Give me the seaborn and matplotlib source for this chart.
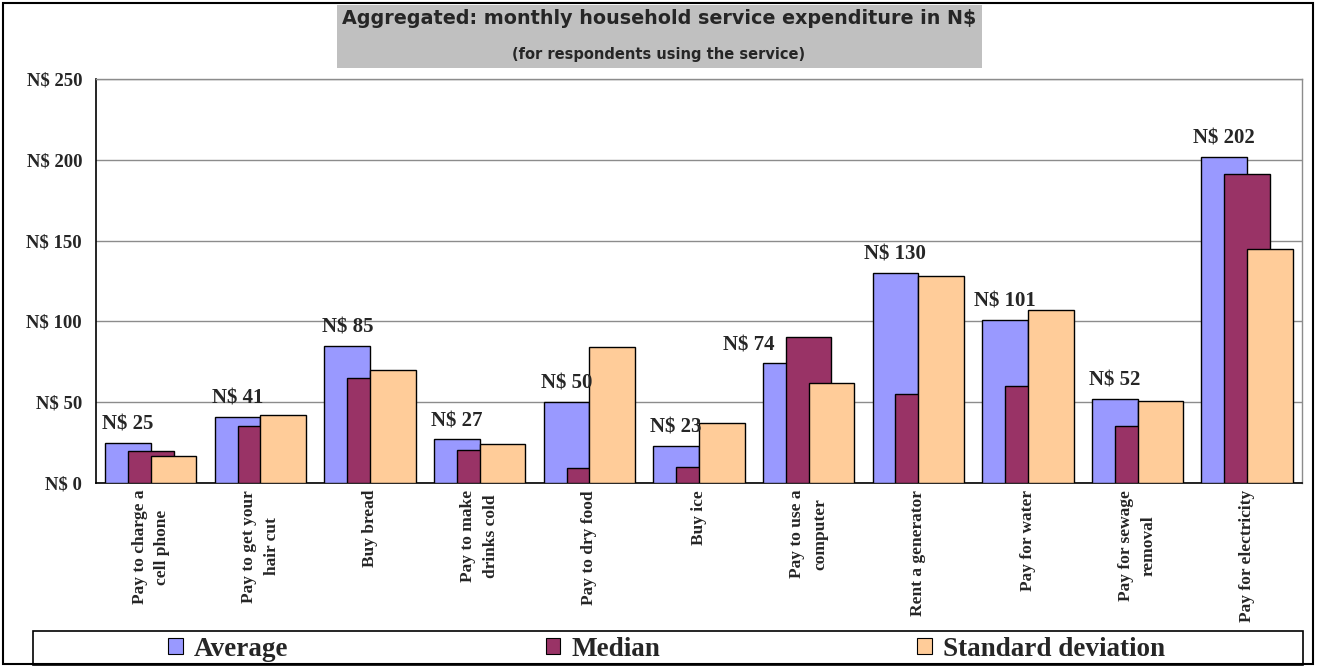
import numpy as np
import pandas as pd
import matplotlib
matplotlib.use("Agg")
import matplotlib.pyplot as plt
from matplotlib.patches import Patch, Rectangle
from matplotlib.ticker import FixedLocator, FuncFormatter
import seaborn as sns

# Monthly household service expenditure (N$), respondents using each service
categories = [
    "Pay to charge a\ncell phone",
    "Pay to get your\nhair cut",
    "Buy bread",
    "Pay to make\ndrinks cold",
    "Pay to dry food",
    "Buy ice",
    "Pay to use a\ncomputer",
    "Rent a generator",
    "Pay for water",
    "Pay for sewage\nremoval",
    "Pay for electricity",
]
average = [25, 41, 85, 27, 50, 23, 74, 130, 101, 52, 202]
median = [20, 35, 65, 20.5, 9, 10, 90.5, 55, 60, 35, 191]
std_dev = [16.5, 42, 70, 24, 84, 37, 62, 128, 107, 51, 145]

series_names = ["Average", "Median", "Standard deviation"]
series_values = [average, median, std_dev]
series_colors = ["#9999FF", "#993366", "#FFCC99"]
y_ticks = [0, 50, 100, 150, 200, 250]

sns.set_style("white")
plt.rcParams["font.family"] = ["Liberation Serif", "DejaVu Serif"]

W, H = 1317, 667
fig = plt.figure(figsize=(W / 100, H / 100), dpi=100)
ax = fig.add_axes([96 / W, 1 - 483 / H, (1302 - 96) / W, (483 - 79) / H])

# Overlapping clustered bars: each bar 5/12 of a slot, shifted by half a bar
bar_w = 5 / 12
step = bar_w / 2
idx = np.arange(len(categories))
for k, (name, vals, col) in enumerate(zip(series_names, series_values, series_colors)):
    df = pd.DataFrame({"pos": idx + (k - 1) * step, "value": vals})
    sns.barplot(data=df, x="pos", y="value", native_scale=True, width=bar_w,
                color=col, saturation=1, edgecolor="black", linewidth=1.0,
                ax=ax, zorder=3)

# Value labels above the average bars; kept clear of a taller median bar
for i, v in enumerate(average):
    if median[i] > v:
        x, ha = i - bar_w / 2 - 0.1, "right"
    else:
        x, ha = i - step, "center"
    ax.annotate(f"N$ {v:g}", xy=(x, v), xytext=(0, 6),
                textcoords="offset points", ha=ha, va="bottom",
                fontsize=15, fontweight="bold", zorder=5)

ax.set_xlim(-0.5, len(categories) - 0.5)
ax.set_ylim(0, 250)
ax.set_xlabel("")
ax.set_ylabel("")

ax.yaxis.set_major_locator(FixedLocator(y_ticks))
ax.yaxis.set_major_formatter(FuncFormatter(lambda v, p: f"N$ {v:.0f}"))
ax.tick_params(axis="y", which="major", direction="out", length=6, width=1,
               color="black", labelsize=13.5, pad=4)
for lab in ax.get_yticklabels():
    lab.set_fontweight("bold")

# Category boundaries carry tick marks; labels sit at slot centres
ax.xaxis.set_major_locator(FixedLocator(np.arange(len(categories) + 1) - 0.5))
ax.xaxis.set_major_formatter(FuncFormatter(lambda v, p: ""))
ax.set_xticks(idx, minor=True)
ax.set_xticklabels(categories, minor=True, rotation=90, ha="center", va="top",
                   multialignment="center", fontsize=12.5, fontweight="bold",
                   linespacing=1.55)
ax.tick_params(axis="x", which="major", direction="out", length=5, width=1,
               color="black")
ax.tick_params(axis="x", which="minor", length=0, pad=5)

ax.yaxis.grid(True, color="#8C8C8C", linewidth=1, zorder=0)
ax.set_axisbelow(True)
for s in ["left", "bottom"]:
    ax.spines[s].set_color("black")
    ax.spines[s].set_linewidth(1.2)
for s in ["top", "right"]:
    ax.spines[s].set_color("#8C8C8C")
    ax.spines[s].set_linewidth(1)

# Title block on a grey band
fig.patches.append(Rectangle((337 / W, 1 - 68 / H), (982 - 337) / W, (68 - 5) / H,
                             transform=fig.transFigure, facecolor="#C0C0C0",
                             edgecolor="none", zorder=0))
fig.text(659 / W, 1 - 19 / H, "Aggregated: monthly household service expenditure in N$",
         ha="center", va="center", fontsize=13.8, fontweight="bold",
         family="DejaVu Sans")
fig.text(659 / W, 1 - 55 / H, "(for respondents using the service)",
         ha="center", va="center", fontsize=10.5, fontweight="bold",
         family="DejaVu Sans")

# Legend strip along the bottom
fig.patches.append(Rectangle((33 / W, 1 - 665 / H), (1303 - 33) / W, (665 - 631) / H,
                             transform=fig.transFigure, facecolor="white",
                             edgecolor="black", linewidth=1.2, zorder=1))
handles = [Patch(facecolor=c, edgecolor="black", linewidth=0.8) for c in series_colors]
leg = fig.legend(handles, series_names, loc="center",
                 bbox_to_anchor=(666.5 / W, 1 - 649 / H),
                 ncol=3, frameon=False, handlelength=0.55, handleheight=0.55,
                 handletextpad=0.4, columnspacing=9.5, borderaxespad=0,
                 borderpad=0,
                 prop={"family": "Liberation Serif", "weight": "bold", "size": 19.5})
leg.set_zorder(2)

# Outer chart border
fig.patches.append(Rectangle((3 / W, 3 / H), (1313 - 3) / W, (664 - 3) / H,
                             transform=fig.transFigure, facecolor="none",
                             edgecolor="black", linewidth=1.5, zorder=10))

fig.savefig("out.png", dpi=100, facecolor="white")
